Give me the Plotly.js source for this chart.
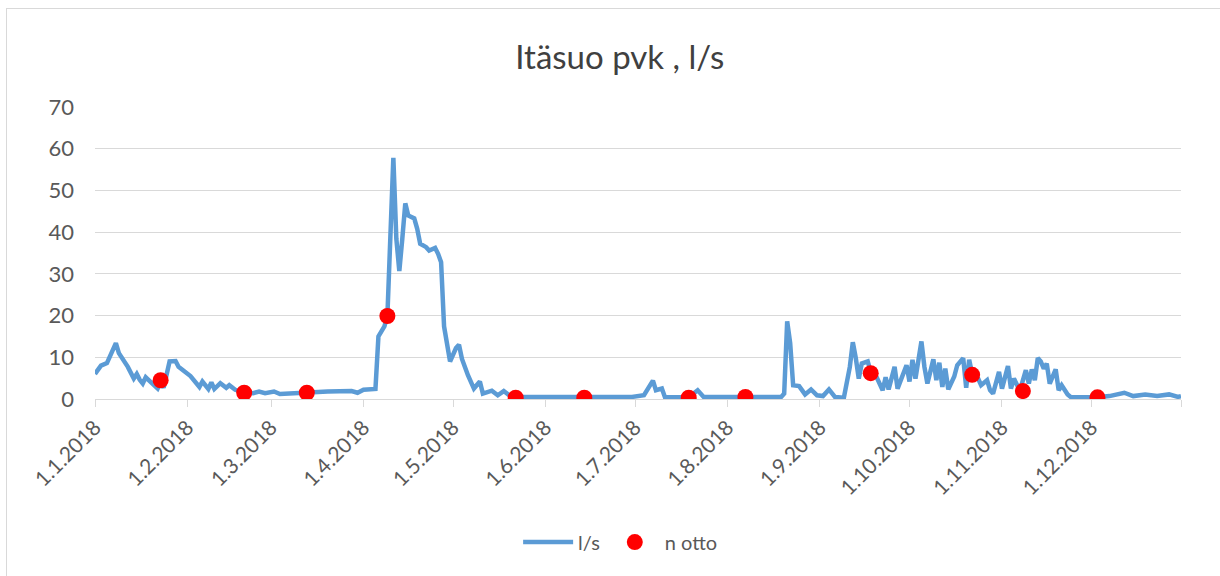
<!DOCTYPE html>
<html>
<head>
<meta charset="utf-8">
<script src="https://cdn.plot.ly/plotly-3.0.1.min.js"></script>
<style>
  html, body { margin: 0; padding: 0; background: #ffffff; }
  #wrap { position: relative; width: 1220px; height: 576px; overflow: hidden; }
  #frame { position: absolute; left: 6px; top: 8px; width: 1230px; height: 600px; border: 1px solid #D9D9D9; box-sizing: border-box; pointer-events: none; }
  #chart { position: absolute; left: 0; top: 0; width: 1220px; height: 576px; }
</style>
</head>
<body>
<div id="wrap">
  <div id="chart"></div>
  <div id="frame"></div>
</div>
<script>
// Flow, l/s
const flowDates = [
  '2018-01-01','2018-01-03','2018-01-05','2018-01-07','2018-01-08','2018-01-09','2018-01-12','2018-01-14','2018-01-15','2018-01-16',
  '2018-01-17','2018-01-18','2018-01-20','2018-01-22','2018-01-23','2018-01-24','2018-01-26','2018-01-28','2018-01-29','2018-02-01',
  '2018-02-02','2018-02-05','2018-02-06','2018-02-08','2018-02-09','2018-02-10','2018-02-12','2018-02-14','2018-02-15','2018-02-17',
  '2018-02-20','2018-02-23','2018-02-25','2018-02-27','2018-03-02','2018-03-04','2018-03-10','2018-03-20','2018-03-28','2018-03-30',
  '2018-04-01','2018-04-05','2018-04-06','2018-04-08','2018-04-09','2018-04-10','2018-04-11','2018-04-12','2018-04-13','2018-04-14',
  '2018-04-15','2018-04-16','2018-04-18','2018-04-19','2018-04-20','2018-04-22','2018-04-23','2018-04-25','2018-04-26','2018-04-27',
  '2018-04-28','2018-04-30','2018-05-02','2018-05-03','2018-05-04','2018-05-06','2018-05-08','2018-05-10','2018-05-11','2018-05-14',
  '2018-05-16','2018-05-18','2018-05-20','2018-05-22','2018-06-01','2018-06-10','2018-06-20','2018-06-30','2018-07-04','2018-07-07',
  '2018-07-08','2018-07-10','2018-07-11','2018-07-15','2018-07-19','2018-07-22','2018-07-24','2018-08-01','2018-08-07','2018-08-15',
  '2018-08-19','2018-08-20','2018-08-21','2018-08-22','2018-08-23','2018-08-25','2018-08-27','2018-08-29','2018-08-31','2018-09-02',
  '2018-09-04','2018-09-06','2018-09-09','2018-09-11','2018-09-12','2018-09-13','2018-09-14','2018-09-15','2018-09-17','2018-09-18',
  '2018-09-20','2018-09-22','2018-09-23','2018-09-24','2018-09-26','2018-09-27','2018-09-29','2018-09-30','2018-10-01','2018-10-02',
  '2018-10-03','2018-10-05','2018-10-06','2018-10-07','2018-10-09','2018-10-10','2018-10-11','2018-10-12','2018-10-13','2018-10-14',
  '2018-10-16','2018-10-17','2018-10-19','2018-10-20','2018-10-21','2018-10-22','2018-10-24','2018-10-25','2018-10-27','2018-10-28',
  '2018-10-29','2018-10-31','2018-11-01','2018-11-03','2018-11-04','2018-11-05','2018-11-07','2018-11-09','2018-11-10','2018-11-11',
  '2018-11-12','2018-11-13','2018-11-14','2018-11-15','2018-11-16','2018-11-17','2018-11-19','2018-11-20','2018-11-21','2018-11-23',
  '2018-11-24','2018-12-01','2018-12-03','2018-12-07','2018-12-12','2018-12-15','2018-12-19','2018-12-23','2018-12-27','2018-12-30',
  '2018-12-31'
];
const flowValues = [
  6.0, 8.0, 8.6, 12.2, 13.4, 11.0, 7.7, 4.9, 6.0, 4.6,
  3.7, 5.2, 3.9, 2.5, 4.0, 2.7, 9.0, 9.1, 7.7, 6.0,
  5.5, 2.9, 4.2, 2.4, 4.0, 2.4, 3.8, 2.7, 3.3, 2.2,
  1.6, 1.4, 1.8, 1.4, 1.8, 1.2, 1.5, 1.8, 1.9, 1.5,
  2.2, 2.4, 15.0, 17.4, 19.9, 38.4, 57.8, 38.4, 30.7, 38.4,
  46.9, 44.0, 43.3, 40.8, 37.2, 36.4, 35.6, 36.2, 34.8, 32.8,
  17.4, 9.0, 12.2, 13.0, 9.6, 5.7, 2.5, 4.2, 1.3, 2.0,
  0.9, 1.9, 0.8, 0.5, 0.4, 0.5, 0.5, 0.5, 0.9, 4.4,
  2.1, 2.5, 0.5, 0.4, 0.4, 2.1, 0.5, 0.5, 0.5, 0.5,
  0.5, 1.3, 18.6, 13.4, 3.3, 3.1, 1.1, 2.3, 0.9, 0.7,
  2.3, 0.5, 0.3, 7.7, 13.6, 9.8, 4.9, 8.5, 9.0, 6.5,
  5.2, 2.1, 5.2, 2.3, 7.7, 2.5, 6.1, 8.1, 4.2, 9.4,
  4.9, 13.8, 7.7, 3.7, 9.5, 4.5, 8.7, 2.9, 7.3, 2.3,
  5.4, 8.1, 9.8, 2.7, 9.4, 6.0, 4.9, 3.3, 4.5, 2.1,
  1.3, 6.5, 2.5, 7.9, 2.5, 4.9, 2.0, 6.9, 3.7, 7.1,
  4.5, 9.8, 9.0, 7.3, 8.5, 3.7, 7.1, 2.1, 3.3, 1.1,
  0.5, 0.3, 0.4, 0.7, 1.5, 0.7, 1.1, 0.7, 1.1, 0.5,
  0.7
];
// Sampling ("n otto")
const sampleDates = ['2018-01-23','2018-02-20','2018-03-13','2018-04-09','2018-05-22','2018-06-14','2018-07-19','2018-08-07','2018-09-18','2018-10-22','2018-11-08','2018-12-03'];
const sampleValues = [4.5, 1.5, 1.5, 19.9, 0.3, 0.3, 0.3, 0.5, 6.2, 5.8, 1.9, 0.4];

const tickDates = ['2018-01-01','2018-02-01','2018-03-01','2018-04-01','2018-05-01','2018-06-01','2018-07-01','2018-08-01','2018-09-01','2018-10-01','2018-11-01','2018-12-01','2018-12-31'];
const tickLabels = ['1.1.2018','1.2.2018','1.3.2018','1.4.2018','1.5.2018','1.6.2018','1.7.2018','1.8.2018','1.9.2018','1.10.2018','1.11.2018','1.12.2018',''];
const yTicks = [0, 10, 20, 30, 40, 50, 60, 70];

const FONT = 'Lato, "Open Sans", sans-serif';
const traces = [
  {
    type: 'scatter', mode: 'lines', name: 'l/s',
    x: flowDates, y: flowValues,
    line: { color: '#5B9BD5', width: 4.5, shape: 'linear' },
    hoverinfo: 'x+y'
  },
  {
    type: 'scatter', mode: 'markers', name: 'n otto',
    x: sampleDates, y: sampleValues,
    marker: { color: '#FF0000', size: 16 },
    hoverinfo: 'x+y'
  }
];

const layout = {
  width: 1220, height: 576,
  margin: { l: 95, r: 39, t: 107, b: 177 },
  paper_bgcolor: 'rgba(0,0,0,0)', plot_bgcolor: '#ffffff',
  font: { family: FONT, color: '#595959', size: 20 },
  title: { text: 'Itäsuo pvk , l/s', font: { family: FONT, size: 33, color: '#404040' }, x: 0.508, xanchor: 'center', y: 0.9, yanchor: 'middle' , yref: 'container'},
  showlegend: true,
  legend: { orientation: 'h', x: 0.484, xanchor: 'center', y: -0.49, yanchor: 'middle', font: { family: FONT, size: 20, color: '#595959' }, itemwidth: 50, traceorder: 'normal' },
  xaxis: {
    type: 'date', range: ['2018-01-01', '2018-12-31'],
    tickmode: 'array', tickvals: tickDates, ticktext: tickLabels,
    tickangle: -45, ticks: 'outside', ticklen: 7, tickcolor: '#D9D9D9', tickwidth: 1,
    showline: true, linecolor: '#D9D9D9', linewidth: 1,
    showgrid: false, zeroline: false,
    tickfont: { family: FONT, size: 21, color: '#595959' }
  },
  yaxis: {
    range: [0, 70], tickmode: 'array', tickvals: yTicks,
    showgrid: true, gridcolor: '#D9D9D9', gridwidth: 1,
    zeroline: false, showline: false, ticks: '',
    ticklabelstandoff: 20,
    tickfont: { family: FONT, size: 22, color: '#595959' }
  },
  hovermode: 'closest'
};

Plotly.newPlot('chart', traces, layout, { displayModeBar: false, staticPlot: true });
</script>
</body>
</html>
